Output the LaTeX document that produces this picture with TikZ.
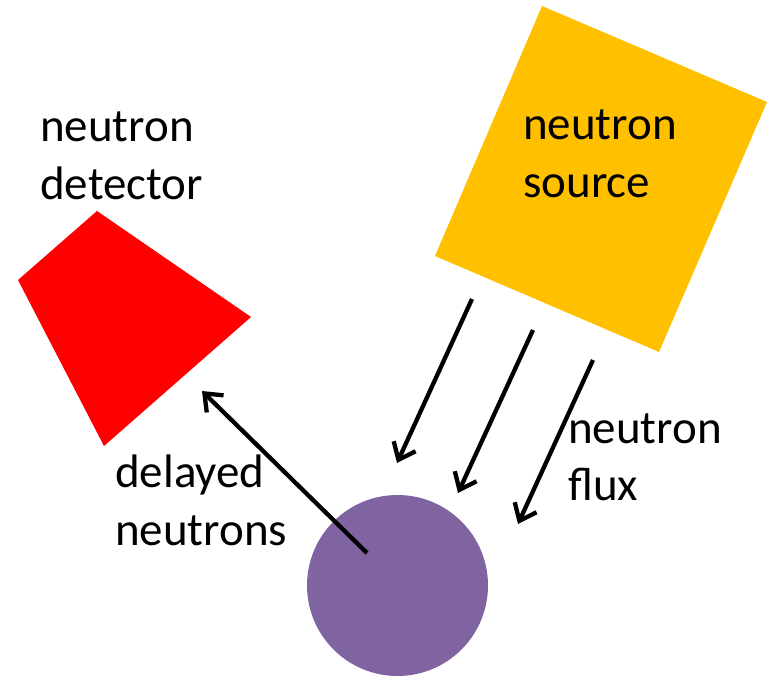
\documentclass[tikz,border=0pt]{standalone}
\usepackage{fontspec}
\setmainfont{Carlito}
\usetikzlibrary{arrows.meta}
\definecolor{srcyellow}{HTML}{FFC000}
\definecolor{detred}{HTML}{FF0000}
\definecolor{samplepurple}{HTML}{8064A2}
\newcommand{\twolines}[2]{\begin{tabular}[t]{@{}l@{}}#1\\#2\end{tabular}}
\begin{document}
\begin{tikzpicture}[x=1pt,y=-1pt,
  label text/.style={anchor=base west,inner sep=0pt,
    font=\fontsize{47}{58}\selectfont},
  ray/.style={line width=4.3pt,
    -{Straight Barb[length=15pt,width=24pt]}}]
  \useasboundingbox (0,0) rectangle (769,676);

  % neutron source (tilted square)
  \fill[srcyellow] (542,6) -- (767,102) -- (659,352) -- (435,256) -- cycle;
  % neutron detector (quadrilateral)
  \fill[detred] (18,280) -- (97,211) -- (251,317) -- (104,446) -- cycle;
  % sample
  \node[circle,fill=samplepurple,minimum size=181pt,inner sep=0pt] (sample) at (397.5,585.5) {};

  % labels
  \node[label text] (srclabel) at (523,140) {\twolines{neutron}{source}};
  \node[label text] (detlabel) at (40,142) {\twolines{neutron}{detector}};
  \node[label text] (dellabel) at (115,487) {\twolines{delayed}{neutrons}};
  \node[label text] (fluxlabel) at (568,443) {\twolines{neutron}{flux}};

  % incoming flux
  \coordinate (f1a) at (472,299); \coordinate (f1b) at (397,463);
  \coordinate (f2a) at (533,330); \coordinate (f2b) at (458,493);
  \coordinate (f3a) at (593,360); \coordinate (f3b) at (518,524);
  \draw[ray] (f1a) -- (f1b);
  \draw[ray] (f2a) -- (f2b);
  \draw[ray] (f3a) -- (f3b);

  % delayed neutrons towards the detector
  \coordinate (d0) at (367,553); \coordinate (d1) at (202,391);
  \draw[ray] (d0) -- (d1);
\end{tikzpicture}
\end{document}
